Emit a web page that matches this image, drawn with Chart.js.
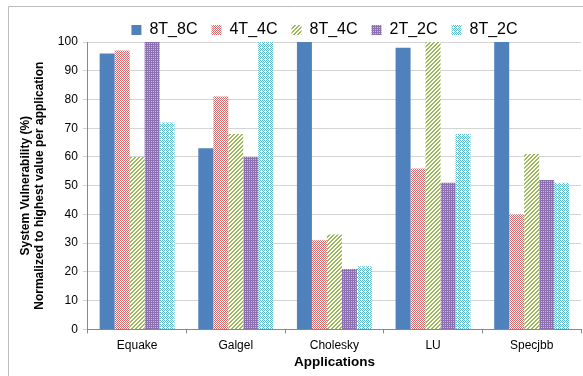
<!DOCTYPE html>
<html>
<head>
<meta charset="utf-8">
<script src="https://cdn.jsdelivr.net/npm/chart.js@4"></script>
<style>
  html, body { margin: 0; padding: 0; background: #fff; }
  #wrap { width: 583px; height: 376px; position: relative; }
</style>
</head>
<body>
<div id="wrap"><canvas id="vulnChart" width="583" height="376"></canvas></div>
<script>
// data
const apps = ['Equake', 'Galgel', 'Cholesky', 'LU', 'Specjbb'];
const configs = ['8T_8C', '4T_4C', '8T_4C', '2T_2C', '8T_2C'];
const v8T8C = [96, 63, 100, 98, 100];
const v4T4C = [97, 81, 31, 56, 40];
const v8T4C = [60, 68, 33, 100, 61];
const v2T2C = [100, 60, 21, 51, 52];
const v8T2C = [72, 100, 22, 68, 51];

// small repeating fills like the office-chart patterns
function makePattern(kind, fg) {
    const c = document.createElement('canvas');
    c.width = 4; c.height = 4;
    const g = c.getContext('2d');
    g.fillStyle = '#fff';
    g.fillRect(0, 0, 4, 4);
    g.fillStyle = fg;
    if (kind === 'checker') {
        g.fillRect(0, 0, 1, 1); g.fillRect(2, 0, 1, 1);
        g.fillRect(1, 1, 1, 1); g.fillRect(3, 1, 1, 1);
        g.fillRect(0, 2, 1, 1); g.fillRect(2, 2, 1, 1);
        g.fillRect(1, 3, 1, 1); g.fillRect(3, 3, 1, 1);
    } else if (kind === 'diag') {
        g.fillRect(3, 0, 1, 1); g.fillRect(0, 0, 1, 1);
        g.fillRect(2, 1, 2, 1);
        g.fillRect(1, 2, 2, 1);
        g.fillRect(0, 3, 2, 1);
    } else if (kind === 'dense') {
        g.fillRect(0, 0, 4, 4);
        g.fillStyle = '#c9bcdb';
        g.fillRect(1, 1, 1, 1); g.fillRect(3, 3, 1, 1);
        g.fillRect(3, 1, 1, 1); g.fillRect(1, 3, 1, 1);
    } else if (kind === 'dots') {
        g.fillRect(0, 0, 1, 1); g.fillRect(2, 0, 1, 1);
        g.fillRect(1, 1, 1, 1); g.fillRect(3, 1, 1, 1);
        g.fillRect(2, 2, 1, 1); g.fillRect(0, 2, 1, 1);
        g.fillRect(3, 3, 1, 1);
    }
    return g.createPattern(c, 'repeat');
}

const fills = [
    '#4f81bd',
    makePattern('checker', '#d9696a'),
    makePattern('diag', '#9bbb59'),
    makePattern('dense', '#8c6fb0'),
    makePattern('dots', '#5dbcd2')
];
const series = [v8T8C, v4T4C, v8T4C, v2T2C, v8T2C];

// thin grey frame on the top and left, legend nudged right and tightened
const framePlugin = {
    id: 'frame',
    beforeInit(chart) {
        const origFit = chart.legend.fit;
        chart.legend.fit = function () {
            origFit.bind(chart.legend)();
            this.height -= 6;
        };
    },
    afterLayout(chart) {
        chart.legend.left += 25;
        chart.legend.right += 25;
    },
    beforeDraw(chart) {
        const ctx = chart.ctx;
        ctx.save();
        ctx.strokeStyle = '#bdbdbd';
        ctx.lineWidth = 1;
        ctx.beginPath();
        ctx.moveTo(8.5, 376);
        ctx.lineTo(8.5, 6.5);
        ctx.lineTo(583, 6.5);
        ctx.stroke();
        ctx.restore();
    }
};

const ctxVuln = document.getElementById('vulnChart').getContext('2d');
const vulnChart = new Chart(ctxVuln, {
    type: 'bar',
    data: {
        labels: apps,
        datasets: configs.map((name, i) => ({
            label: name,
            data: series[i],
            backgroundColor: fills[i],
            borderWidth: 0,
            categoryPercentage: 0.76,
            barPercentage: 1.0
        }))
    },
    options: {
        responsive: false,
        animation: false,
        layout: { padding: { left: 18, right: 2, top: 8, bottom: 6 } },
        plugins: {
            legend: {
                position: 'top',
                labels: {
                    boxWidth: 10,
                    boxHeight: 10,
                    padding: 14,
                    color: '#000',
                    font: { family: 'Liberation Sans, Arial', size: 16 }
                }
            },
            tooltip: { enabled: false }
        },
        scales: {
            x: {
                grid: { display: true, drawOnChartArea: false, tickLength: 4, color: '#888' },
                border: { color: '#888' },
                ticks: { color: '#000', font: { family: 'Liberation Sans, Arial', size: 12 }, padding: 5 },
                title: {
                    display: true,
                    text: 'Applications',
                    color: '#000',
                    font: { family: 'Liberation Sans, Arial', size: 13.5, weight: 'bold' },
                    padding: { top: -4, bottom: 0 }
                }
            },
            y: {
                min: 0,
                max: 100,
                ticks: { stepSize: 10, color: '#000', font: { family: 'Liberation Sans, Arial', size: 12 }, padding: 5 },
                grid: { color: '#d4d4d4', tickLength: 5 },
                border: { color: '#888' },
                title: {
                    display: true,
                    text: ['System Vulnerability (%)', 'Normalized to highest value per application'],
                    color: '#000',
                    font: { family: 'Liberation Sans, Arial', size: 12, weight: 'bold' },
                    padding: { top: 0, bottom: 6 }
                }
            }
        }
    },
    plugins: [framePlugin]
});
</script>
</body>
</html>
